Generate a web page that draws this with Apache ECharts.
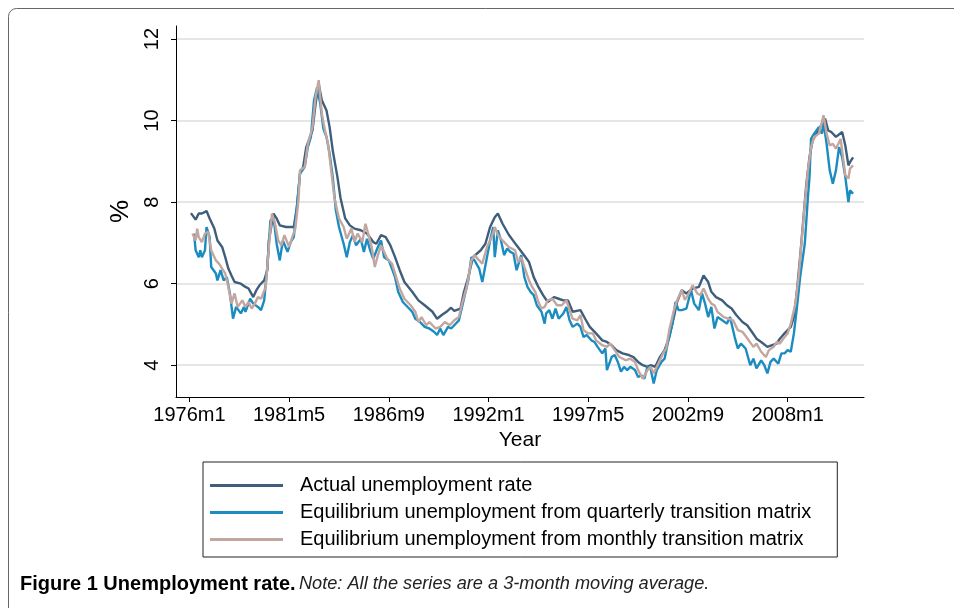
<!DOCTYPE html>
<html>
<head>
<meta charset="utf-8">
<script src="https://cdn.jsdelivr.net/npm/echarts@6/dist/echarts.min.js"></script>
<style>
  html, body { margin: 0; padding: 0; background: #fff; }
  #chart { width: 954px; height: 608px; }
</style>
</head>
<body>
<div id="chart"></div>
<script>
// x = months since 1976m1, y = unemployment rate (%)
const tickMonths = [0, 64, 128, 192, 256, 320, 384];
const tickLabels = ['1976m1', '1981m5', '1986m9', '1992m1', '1997m5', '2002m9', '2008m1'];
const yTicks = [4, 6, 8, 10, 12];

const seriesNames = [
  'Actual unemployment rate',
  'Equilibrium unemployment from quarterly transition matrix',
  'Equilibrium unemployment from monthly transition matrix'
];

const actualRate = [
  [1,7.73],[4,7.57],[6,7.72],[8,7.72],[11,7.78],[13,7.6],[16,7.35],[18,7.06],[21,6.9],[23,6.65],
  [25,6.37],[27,6.2],[29,6.04],[33,6.0],[36,5.92],[38,5.88],[41,5.67],[43,5.84],[45,5.96],[48,6.08],
  [50,6.33],[51,7.06],[54,7.72],[56,7.6],[58,7.43],[62,7.39],[65,7.39],[67,7.39],[69,7.88],[71,8.7],
  [73,8.86],[75,9.35],[79,9.76],[81,10.41],[83,10.9],[85,10.5],[88,10.25],[90,9.84],[92,9.27],[95,8.62],
  [97,8.1],[100,7.6],[103,7.43],[106,7.35],[110,7.31],[114,7.23],[118,7.02],[120,6.98],[123,7.19],[126,7.14],
  [129,6.94],[132,6.65],[135,6.33],[138,6.04],[143,5.8],[147,5.59],[151,5.47],[156,5.31],[159,5.14],[162,5.23],
  [165,5.31],[168,5.41],[170,5.33],[174,5.39],[176,5.76],[179,6.16],[182,6.65],[187,6.82],[190,6.98],[193,7.39],
  [196,7.63],[198,7.72],[201,7.47],[205,7.2],[210,6.94],[214,6.74],[218,6.53],[221,6.16],[224,5.92],[227,5.72],
  [230,5.55],[234,5.67],[237,5.63],[240,5.59],[243,5.59],[246,5.31],[251,5.35],[254,5.14],[257,4.94],[261,4.78],
  [265,4.61],[268,4.57],[271,4.49],[274,4.37],[278,4.29],[282,4.25],[285,4.2],[288,4.08],[291,4.0],[294,3.96],
  [296,4.0],[299,3.96],[302,4.2],[305,4.37],[308,4.69],[311,5.18],[313,5.55],[316,5.84],[319,5.76],[323,5.88],
  [327,5.92],[330,6.2],[333,6.04],[335,5.8],[338,5.67],[342,5.59],[345,5.47],[348,5.39],[351,5.23],[355,5.06],
  [358,4.98],[361,4.82],[364,4.65],[367,4.57],[371,4.45],[374,4.49],[377,4.53],[379,4.65],[382,4.78],[386,4.94],
  [388,5.18],[390,5.84],[392,6.65],[394,7.55],[396,8.45],[398,9.1],[400,9.51],[403,9.72],[406,9.92],[408,10.05],
  [410,9.76],[412,9.72],[415,9.6],[419,9.72],[421,9.39],[423,8.9],[424,8.98],[426,9.1]
];

const quarterlyRate = [
  [3,7.23],[4,6.82],[6,6.65],[7,6.82],[8,6.65],[10,6.82],[11,7.39],[13,7.14],[14,6.41],[17,6.25],
  [18,6.08],[20,6.33],[22,6.08],[24,6.16],[26,5.76],[28,5.14],[30,5.43],[33,5.27],[35,5.43],[36,5.31],
  [39,5.63],[41,5.51],[44,5.43],[46,5.35],[48,5.59],[50,6.41],[52,7.55],[54,7.63],[56,6.98],[58,6.57],
  [60,7.06],[63,6.78],[65,7.02],[67,7.14],[69,7.88],[71,8.7],[74,8.86],[76,9.35],[78,9.6],[80,10.5],
  [82,10.82],[84,10.41],[86,9.8],[88,9.6],[90,9.19],[92,8.62],[94,7.8],[96,7.39],[99,6.98],[101,6.65],
  [103,7.02],[105,7.19],[107,6.94],[110,7.1],[112,6.78],[114,7.1],[116,6.82],[118,6.61],[121,6.9],[123,7.06],
  [125,6.65],[128,6.57],[130,6.37],[132,6.16],[134,5.8],[137,5.55],[141,5.39],[143,5.31],[145,5.14],[148,5.06],
  [151,4.94],[154,4.9],[157,4.82],[159,4.74],[161,4.9],[163,4.74],[166,4.94],[168,4.9],[170,4.98],[173,5.1],
  [175,5.43],[177,5.76],[179,6.08],[181,6.65],[183,6.57],[186,6.37],[188,6.04],[191,6.65],[193,7.06],[195,7.39],
  [196,6.65],[198,7.31],[200,7.06],[202,6.7],[204,6.86],[206,6.78],[208,6.74],[210,6.33],[213,6.7],[215,6.16],
  [217,5.92],[219,5.8],[221,5.72],[223,5.47],[226,5.31],[228,5.02],[229,5.27],[231,5.35],[233,5.14],[235,5.39],
  [237,5.14],[240,5.27],[242,5.43],[244,5.1],[246,4.94],[249,5.02],[251,4.94],[253,4.69],[255,4.74],[258,4.61],
  [260,4.57],[262,4.45],[265,4.29],[267,4.41],[268,3.88],[271,4.2],[273,4.25],[275,4.08],[277,3.84],[279,3.96],
  [281,3.88],[283,3.96],[286,3.88],[288,3.71],[290,3.75],[292,3.67],[294,3.96],[296,3.92],[298,3.55],[300,3.88],
  [303,4.08],[305,4.16],[307,4.53],[310,5.02],[312,5.55],[314,5.35],[316,5.35],[319,5.39],[320,5.39],[322,5.84],
  [324,5.51],[327,5.35],[329,5.76],[331,5.51],[333,5.18],[335,5.43],[337,4.9],[339,5.18],[342,5.1],[345,5.02],
  [347,5.18],[350,4.69],[352,4.41],[354,4.53],[357,4.41],[360,4.0],[362,4.16],[364,3.92],[367,4.12],[369,4.0],
  [371,3.8],[373,4.08],[375,4.16],[378,4.04],[380,4.29],[382,4.29],[384,4.37],[386,4.33],[388,4.78],[390,5.43],
  [392,6.16],[395,6.98],[397,8.12],[398,8.6],[399,9.55],[401,9.68],[404,9.84],[406,9.68],[407,9.96],[409,9.43],
  [411,8.78],[413,8.45],[415,8.78],[417,9.35],[419,9.1],[421,8.62],[423,8.0],[424,8.29],[426,8.21]
];

const monthlyRate = [
  [2,7.23],[4,7.06],[5,7.35],[6,7.14],[8,7.02],[10,7.23],[12,7.27],[14,6.82],[17,6.57],[19,6.49],
  [21,6.37],[23,6.25],[25,5.92],[27,5.51],[29,5.76],[31,5.43],[34,5.59],[36,5.43],[38,5.55],[40,5.39],
  [42,5.51],[44,5.67],[46,5.63],[49,5.92],[51,6.9],[53,7.72],[55,7.47],[57,7.06],[59,6.94],[61,7.19],
  [64,6.9],[66,7.14],[68,7.35],[70,8.04],[71,8.78],[74,8.86],[76,9.43],[79,9.84],[81,10.58],[83,10.99],
  [85,10.17],[87,9.76],[89,9.43],[91,8.78],[93,8.12],[96,7.6],[99,7.39],[101,7.1],[104,7.35],[106,7.02],
  [108,7.23],[111,7.02],[113,7.47],[115,7.19],[117,6.9],[119,6.41],[121,6.7],[123,6.94],[127,6.61],[130,6.49],
  [132,6.25],[135,5.88],[138,5.63],[142,5.47],[145,5.31],[147,5.06],[149,5.18],[152,4.98],[154,5.06],[158,4.9],
  [161,4.94],[164,5.06],[167,4.98],[170,5.1],[173,5.18],[175,5.51],[178,5.92],[181,6.57],[183,6.7],[186,6.57],
  [188,6.49],[191,6.9],[194,7.14],[196,7.39],[198,7.19],[201,7.06],[205,6.9],[209,6.82],[211,6.53],[213,6.65],
  [215,6.41],[218,6.08],[220,5.92],[222,5.8],[224,5.55],[226,5.39],[228,5.43],[230,5.59],[233,5.63],[236,5.47],
  [239,5.47],[242,5.59],[244,5.35],[246,5.14],[249,5.1],[251,5.23],[253,4.86],[256,4.78],[259,4.78],[261,4.61],
  [265,4.49],[268,4.45],[270,4.53],[273,4.37],[276,4.2],[280,4.12],[283,4.16],[286,4.08],[288,3.88],[291,3.67],
  [294,3.88],[296,3.96],[298,3.8],[301,4.04],[304,4.29],[306,4.41],[308,4.86],[311,5.35],[313,5.59],[316,5.84],
  [318,5.6],[320,5.72],[323,5.96],[326,5.76],[328,5.72],[330,5.88],[333,5.63],[335,5.51],[337,5.47],[339,5.31],
  [343,5.18],[346,5.14],[349,5.1],[352,4.86],[355,4.82],[359,4.61],[362,4.45],[364,4.53],[367,4.33],[370,4.2],
  [372,4.37],[375,4.45],[377,4.57],[379,4.53],[382,4.69],[384,4.78],[386,5.02],[389,5.51],[391,6.16],[393,7.06],
  [395,7.96],[397,8.78],[399,9.35],[401,9.6],[404,9.68],[406,9.96],[407,10.13],[409,9.68],[411,9.39],[413,9.43],
  [415,9.31],[418,9.55],[419,9.51],[421,8.66],[423,8.58],[424,8.82],[426,8.9]
];

const colors = ['#3f5e7b', '#1a8cc0', '#c3a69f'];
const font = '"Liberation Sans", Arial, sans-serif';

const chart = echarts.init(document.getElementById('chart'));

const makeLine = (name, data, color) => ({
  name: name,
  type: 'line',
  data: data,
  showSymbol: false,
  symbol: 'none',
  lineStyle: { color: color, width: 2.4 },
  itemStyle: { color: color },
  animation: false
});

chart.setOption({
  animation: false,
  textStyle: { fontFamily: font },
  grid: { left: 176, right: 90, top: 26, bottom: 211, containLabel: false },
  xAxis: {
    type: 'value',
    min: -8.6,
    max: 433,
    name: 'Year',
    nameLocation: 'middle',
    nameGap: 29,
    nameTextStyle: { fontSize: 21, color: '#000', fontFamily: font },
    axisLine: { show: true, onZero: false, lineStyle: { color: '#000', width: 1 } },
    axisTick: { show: true, length: 5, customValues: tickMonths, lineStyle: { color: '#000' } },
    axisLabel: {
      customValues: tickMonths,
      margin: 8,
      fontSize: 20,
      color: '#000',
      fontFamily: font,
      formatter: v => tickLabels[tickMonths.indexOf(v)] || ''
    },
    splitLine: { show: false }
  },
  yAxis: {
    type: 'value',
    min: 3.22,
    max: 12.32,
    name: '%',
    nameLocation: 'middle',
    nameRotate: 90,
    nameGap: 36,
    nameTextStyle: { fontSize: 26, color: '#000', fontFamily: font },
    axisLine: { show: true, onZero: false, lineStyle: { color: '#000', width: 1 } },
    axisTick: { show: true, length: 5, customValues: yTicks, lineStyle: { color: '#000' } },
    axisLabel: {
      customValues: yTicks,
      rotate: 90,
      margin: 14,
      fontSize: 20,
      color: '#000',
      fontFamily: font
    },
    splitLine: { show: true, lineStyle: { color: '#e6e6e6', width: 2 } }
  },
  legend: {
    orient: 'vertical',
    left: 203,
    top: 462,
    data: seriesNames,
    icon: 'rect',
    itemWidth: 73,
    itemHeight: 3,
    itemGap: 6,
    padding: [13, 26, 7, 7],
    borderColor: '#222',
    borderWidth: 1,
    textStyle: { fontSize: 20, color: '#000', lineHeight: 21, padding: [0, 0, 0, 12], fontFamily: font }
  },
  graphic: [
    {
      type: 'rect',
      silent: true,
      shape: { x: 8.5, y: 8.5, width: 1000, height: 700, r: 8 },
      style: { fill: 'none', stroke: '#666', lineWidth: 1 }
    },
    {
      type: 'text',
      left: 20,
      top: 574,
      style: {
        text: '{b|Figure 1 Unemployment rate.} {i|Note: All the series are a 3-month moving average.}',
        rich: {
          b: { fontSize: 20, fontWeight: 'bold', fill: '#000', fontFamily: font },
          i: { fontSize: 18.2, fontStyle: 'italic', fill: '#222', fontFamily: font }
        }
      }
    }
  ],
  series: [
    makeLine(seriesNames[0], actualRate, colors[0]),
    makeLine(seriesNames[1], quarterlyRate, colors[1]),
    makeLine(seriesNames[2], monthlyRate, colors[2])
  ]
});
</script>
</body>
</html>
